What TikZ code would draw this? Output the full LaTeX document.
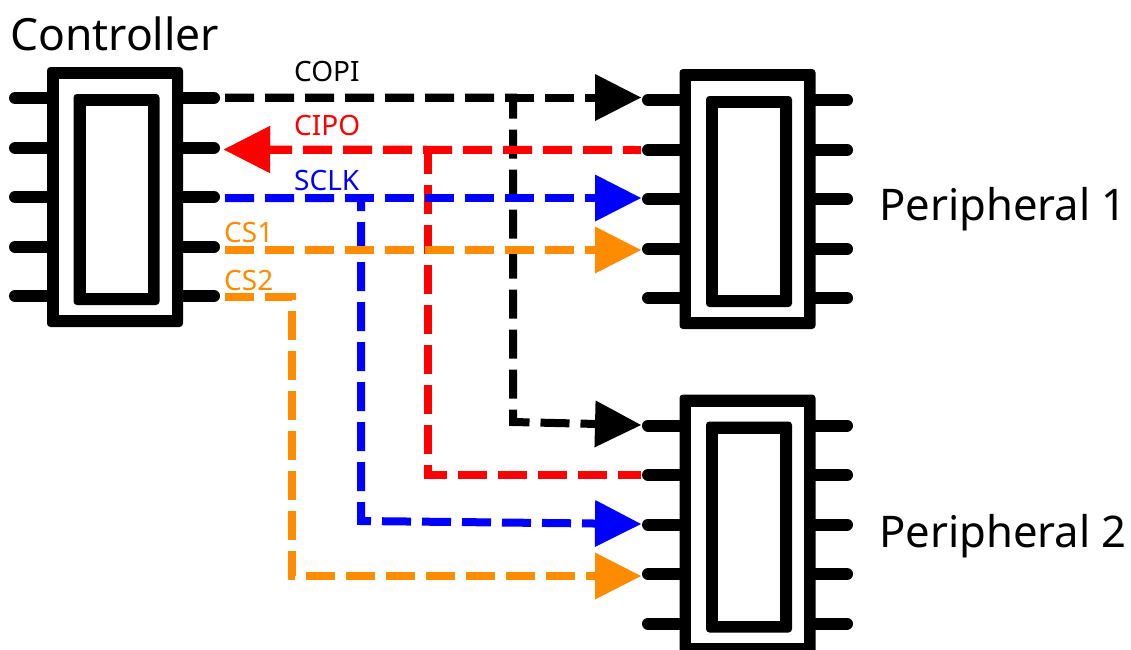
\documentclass[tikz,border=0pt]{standalone}
\usepackage{fontspec}
\setmainfont{Noto Sans}
\usetikzlibrary{arrows.meta}
\definecolor{wireorange}{HTML}{FF8C00}
\tikzset{
  chipblock/.style 2 args={fill=black,rounded corners=3.5pt,outer sep=0pt,inner sep=0pt,minimum width=#1,minimum height=#2},
  chiphole/.style 2 args={fill=white,outer sep=0pt,inner sep=0pt,minimum width=#1,minimum height=#2},
  pin/.style={draw=black,line width=12pt,line cap=round},
  wire/.style={line width=8pt,dash pattern=on 29pt off 11pt},
  head/.style={-{Triangle[length=46pt,width=47pt,line width=0pt]}},
  headback/.style={{Triangle[length=46pt,width=47pt,line width=0pt]}-,dash phase=7pt},
  biglabel/.style={anchor=base west,inner sep=0pt,font=\fontsize{43.6}{44}\selectfont},
  ctrllabel/.style={anchor=base west,inner sep=0pt,font=\fontsize{44.4}{45}\selectfont},
  siglabel/.style={anchor=base west,inner sep=0pt,font=\fontsize{28}{28}\selectfont}
}
\begin{document}
\begin{tikzpicture}[x=1pt,y=-1pt]
\useasboundingbox (0,0) rectangle (1131,649);
% chips
\foreach \nm/\cx/\cy in {ctrl/115/197, pa/747.5/199, pb/747.5/524.5}{
  \node[chipblock={136pt}{260pt}] (\nm) at (\cx,\cy) {};
  \node[chiphole={113pt}{236pt}] (\nm a) at (\nm.center) {};
  \node[chipblock={86pt}{211pt}] (\nm b) at ([shift={(1.5,2.5)}]\nm.center) {};
  \node[chiphole={62pt}{187pt}] (\nm c) at (\nm b.center) {};
}
% pins
\foreach \n/\y in {1/98,2/148,3/197,4/247,5/296}{
  \coordinate (cl\n) at (15,\y);
  \coordinate (cr\n) at (214,\y);
  \draw[pin] (cl\n) -- (ctrl.west |- cl\n);
  \draw[pin] (ctrl.east |- cr\n) -- (cr\n);
}
\foreach \n/\y in {1/100,2/150,3/199,4/249,5/298}{
  \coordinate (al\n) at (648,\y);
  \coordinate (ar\n) at (847,\y);
  \draw[pin] (al\n) -- (pa.west |- al\n);
  \draw[pin] (pa.east |- ar\n) -- (ar\n);
}
\foreach \n/\y in {1/425.5,2/475,3/524.5,4/574,5/623.5}{
  \coordinate (bl\n) at (648,\y);
  \coordinate (br\n) at (847,\y);
  \draw[pin] (bl\n) -- (pb.west |- bl\n);
  \draw[pin] (pb.east |- br\n) -- (br\n);
}
% wire ends
\coordinate (s1) at (225,97.5);
\coordinate (s2) at (224,149.5);
\coordinate (s3) at (225,198);
\coordinate (s4) at (225,250);
\coordinate (s5) at (225,297);
\coordinate (ea1) at (641,97.5);
\coordinate (ea2) at (641,150);
\coordinate (ea3) at (641,198);
\coordinate (ea4) at (641,250);
\coordinate (eb1) at (641,425);
\coordinate (eb2) at (641,475);
\coordinate (eb3) at (641,524);
\coordinate (eb4) at (641,576);
% black
\draw[wire,black,head] (s1) -- (ea1);
\draw[wire,black,head] (s1) -- (513,97.5) -- (513,422) -- (eb1);
% red
\draw[wire,red,headback] (s2) -- (ea2);
\draw[wire,red,headback] (s2) -- (428,149.5) -- (428,475) -- (eb2);
% blue
\draw[wire,blue,head] (s3) -- (ea3);
\draw[wire,blue,head] (s3) -- (361,198) -- (361,521) -- (eb3);
% orange
\draw[wire,wireorange,head] (s4) -- (ea4);
\draw[wire,wireorange,head] (s5) -- (291.5,297) -- (291.5,576) -- (eb4);
% labels
\node[ctrllabel] (tc) at (10,50) {Controller};
\node[biglabel] (t1) at (879,220.5) {Peripheral 1};
\node[biglabel] (t2) at (879,547.5) {Peripheral 2};
\node[siglabel,text=black] (l1) at (294,81.5) {COPI};
\node[siglabel,text=red] (l2) at (294,135) {CIPO};
\node[siglabel,text=blue] (l3) at (294,190) {SCLK};
\node[siglabel,text=wireorange] (l4) at (224,242) {CS1};
\node[siglabel,text=wireorange] (l5) at (224,290) {CS2};
\end{tikzpicture}
\end{document}
